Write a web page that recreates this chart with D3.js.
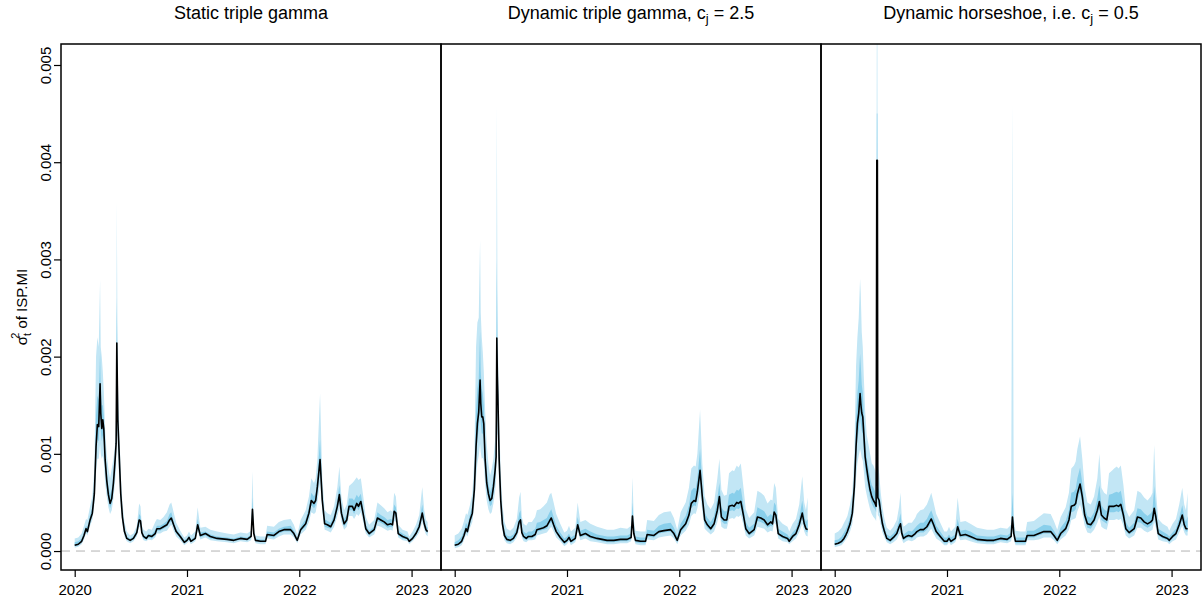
<!DOCTYPE html>
<html>
<head>
<meta charset="utf-8">
<script src="https://cdn.jsdelivr.net/npm/d3@7"></script>
<style>
  body { margin: 0; background: #fff; }
  svg { display: block; font-family: "Liberation Sans", Arial, sans-serif; }
</style>
</head>
<body>
<div id="chart"></div>
<script>
// all sigma^2 values below are in units of 1e-4
const UNIT = 1e-4;

// time grid (decimal years), shared by the three panels
const dates = [
  2020.000, 2020.032, 2020.062, 2020.083, 2020.101, 2020.113, 2020.137, 2020.157, 2020.175, 2020.190,
  2020.202, 2020.214, 2020.226, 2020.232, 2020.241, 2020.250, 2020.259, 2020.271, 2020.285, 2020.300,
  2020.315, 2020.330, 2020.345, 2020.360, 2020.369, 2020.375, 2020.380, 2020.384, 2020.396, 2020.410,
  2020.425, 2020.443, 2020.464, 2020.494, 2020.523, 2020.553, 2020.574, 2020.586, 2020.598, 2020.613,
  2020.637, 2020.657, 2020.687, 2020.717, 2020.732, 2020.762, 2020.791, 2020.821, 2020.845, 2020.860,
  2020.881, 2020.904, 2020.940, 2020.976, 2021.000, 2021.018, 2021.035, 2021.074, 2021.095, 2021.119,
  2021.164, 2021.208, 2021.268, 2021.357, 2021.417, 2021.476, 2021.536, 2021.571, 2021.583, 2021.595,
  2021.610, 2021.655, 2021.699, 2021.714, 2021.774, 2021.818, 2021.863, 2021.923, 2021.952, 2021.982,
  2022.012, 2022.057, 2022.086, 2022.107, 2022.131, 2022.146, 2022.161, 2022.185, 2022.205, 2022.226,
  2022.250, 2022.280, 2022.310, 2022.339, 2022.357, 2022.375, 2022.399, 2022.423, 2022.443, 2022.473,
  2022.488, 2022.512, 2022.527, 2022.548, 2022.571, 2022.592, 2022.622, 2022.667, 2022.696, 2022.726,
  2022.756, 2022.786, 2022.815, 2022.830, 2022.845, 2022.860, 2022.881, 2022.920, 2022.964, 2022.979,
  2023.009, 2023.039, 2023.068, 2023.095, 2023.113, 2023.128, 2023.143
];

// --- Static triple gamma ---
const med1 = [
  0.6, 0.7, 1.0, 1.6, 2.3, 2.0, 3.2, 3.9, 5.9, 10.7,
  13.0, 12.8, 17.2, 14.2, 12.6, 13.5, 12.6, 9.4, 7.3, 5.8,
  4.9, 5.4, 7.0, 9.4, 11.1, 21.4, 17.0, 13.5, 10.0, 5.9,
  3.5, 2.0, 1.3, 1.1, 1.3, 1.9, 3.2, 3.1, 1.9, 1.5,
  1.3, 1.6, 1.5, 1.8, 2.3, 2.3, 2.5, 2.7, 3.2, 3.4,
  2.7, 2.0, 1.5, 0.9, 1.1, 1.4, 1.0, 1.3, 2.7, 1.6,
  1.8, 1.5, 1.3, 1.2, 1.1, 1.3, 1.2, 1.5, 4.3, 1.8,
  1.1, 1.0, 1.0, 1.7, 1.6, 2.0, 2.2, 2.2, 1.8, 1.1,
  2.2, 2.8, 3.9, 5.2, 4.9, 5.2, 6.6, 9.4, 5.2, 2.8,
  2.7, 2.5, 3.2, 4.6, 5.8, 3.9, 2.8, 3.2, 4.6, 4.6,
  4.2, 4.9, 4.6, 5.1, 3.7, 2.3, 1.8, 2.2, 3.4, 3.2,
  3.0, 2.7, 2.8, 2.7, 4.1, 3.9, 1.8, 1.5, 1.3, 1.0,
  1.3, 1.8, 2.5, 3.9, 2.8, 2.2, 2.0
];
const outerHi1 = [
  1.3, 1.4, 1.8, 2.6, 3.3, 3.2, 4.6, 5.6, 8.5, 20.0,
  22.0, 21.0, 27.9, 21.0, 20.0, 18.5, 16.5, 12.5, 10.0, 8.5,
  7.5, 8.5, 9.5, 11.0, 14.0, 36.0, 24.0, 17.5, 13.0, 8.0,
  5.0, 3.0, 2.0, 1.6, 1.8, 2.6, 4.9, 4.6, 2.6, 2.2,
  2.0, 2.3, 2.2, 3.0, 3.3, 3.2, 3.5, 4.0, 4.8, 5.0,
  4.0, 2.9, 2.1, 1.4, 1.6, 2.0, 1.6, 2.0, 4.5, 2.4,
  2.5, 2.2, 2.0, 1.8, 1.7, 1.9, 1.8, 2.1, 8.2, 2.5,
  1.6, 1.5, 1.5, 2.6, 2.5, 3.0, 3.2, 3.3, 2.7, 1.7,
  3.2, 4.2, 5.6, 7.5, 7.0, 7.5, 9.5, 16.2, 7.5, 4.2,
  3.9, 3.7, 4.6, 6.6, 8.7, 5.6, 4.2, 4.8, 6.7, 7.0,
  7.2, 7.6, 7.3, 7.5, 5.5, 3.5, 2.7, 3.2, 5.0, 4.7,
  4.4, 4.0, 4.2, 4.0, 6.0, 5.6, 2.7, 2.2, 2.0, 1.5,
  2.0, 2.7, 3.7, 6.6, 4.2, 3.2, 3.0
];
const innerHi1 = [
  0.9, 1.0, 1.3, 2.0, 2.6, 2.4, 3.7, 4.5, 6.8, 14.0,
  16.0, 15.5, 20.5, 16.5, 15.0, 15.0, 14.0, 10.5, 8.2, 6.7,
  5.8, 6.4, 7.8, 10.0, 12.0, 26.0, 19.5, 15.0, 11.0, 6.6,
  4.0, 2.3, 1.5, 1.3, 1.5, 2.2, 3.8, 3.6, 2.2, 1.7,
  1.5, 1.8, 1.7, 2.2, 2.6, 2.6, 2.8, 3.1, 3.8, 4.0,
  3.1, 2.3, 1.7, 1.1, 1.3, 1.6, 1.2, 1.5, 3.3, 1.9,
  2.0, 1.7, 1.5, 1.4, 1.3, 1.5, 1.4, 1.7, 5.5, 2.0,
  1.3, 1.2, 1.2, 2.0, 1.9, 2.3, 2.5, 2.6, 2.1, 1.3,
  2.5, 3.3, 4.5, 6.0, 5.6, 6.0, 7.6, 11.5, 6.0, 3.3,
  3.1, 2.9, 3.7, 5.3, 6.8, 4.5, 3.3, 3.7, 5.4, 5.4,
  5.2, 5.8, 5.5, 5.9, 4.3, 2.7, 2.1, 2.5, 4.0, 3.7,
  3.5, 3.2, 3.3, 3.2, 4.8, 4.5, 2.1, 1.8, 1.5, 1.2,
  1.5, 2.1, 2.9, 4.8, 3.3, 2.6, 2.4
];
const innerLo1 = [
  0.5, 0.6, 0.9, 1.4, 2.1, 1.8, 2.9, 3.6, 5.4, 9.5,
  11.5, 11.3, 14.5, 12.5, 11.3, 11.9, 11.2, 8.4, 6.6, 5.3,
  4.4, 4.9, 6.4, 8.5, 10.0, 17.5, 14.8, 12.0, 9.0, 5.3,
  3.2, 1.8, 1.2, 1.0, 1.2, 1.7, 2.9, 2.8, 1.7, 1.3,
  1.2, 1.4, 1.3, 1.6, 2.1, 2.1, 2.3, 2.5, 2.9, 3.1,
  2.5, 1.8, 1.3, 0.8, 1.0, 1.2, 0.9, 1.2, 2.4, 1.4,
  1.6, 1.3, 1.2, 1.1, 1.0, 1.2, 1.1, 1.3, 3.8, 1.6,
  1.0, 0.9, 0.9, 1.5, 1.4, 1.8, 2.0, 2.0, 1.6, 1.0,
  2.0, 2.5, 3.5, 4.7, 4.4, 4.7, 5.9, 8.4, 4.7, 2.5,
  2.4, 2.3, 2.9, 4.2, 5.2, 3.5, 2.5, 2.9, 4.2, 4.2,
  3.8, 4.5, 4.2, 4.6, 3.4, 2.1, 1.6, 2.0, 3.1, 2.9,
  2.7, 2.4, 2.5, 2.4, 3.7, 3.5, 1.6, 1.3, 1.2, 0.9,
  1.2, 1.6, 2.3, 3.5, 2.5, 2.0, 1.8
];
const outerLo1 = [
  0.35, 0.45, 0.7, 1.2, 1.8, 1.6, 2.6, 3.2, 4.8, 8.0,
  9.5, 9.5, 11.0, 10.0, 9.5, 9.8, 9.2, 7.0, 5.6, 4.5,
  3.8, 4.2, 5.4, 7.2, 8.5, 13.0, 12.0, 10.0, 7.5, 4.5,
  2.7, 1.5, 1.0, 0.8, 1.0, 1.5, 2.5, 2.4, 1.5, 1.1,
  1.0, 1.2, 1.1, 1.4, 1.8, 1.8, 2.0, 2.1, 2.5, 2.7,
  2.1, 1.5, 1.1, 0.6, 0.8, 1.0, 0.7, 1.0, 2.1, 1.2,
  1.4, 1.1, 1.0, 0.9, 0.8, 1.0, 0.9, 1.1, 3.2, 1.4,
  0.8, 0.7, 0.7, 1.3, 1.2, 1.5, 1.7, 1.7, 1.4, 0.8,
  1.7, 2.2, 3.0, 4.0, 3.8, 4.0, 5.0, 7.0, 4.0, 2.2,
  2.1, 1.9, 2.5, 3.6, 4.4, 3.0, 2.2, 2.5, 3.6, 3.6,
  3.3, 3.8, 3.6, 4.0, 2.9, 1.8, 1.4, 1.7, 2.6, 2.5,
  2.3, 2.1, 2.2, 2.1, 3.1, 3.0, 1.4, 1.1, 1.0, 0.7,
  1.0, 1.4, 1.9, 3.0, 2.2, 1.7, 1.5
];

// --- Dynamic triple gamma, c_j = 2.5 ---
const med2 = [
  0.6, 0.7, 1.0, 1.6, 2.3, 2.0, 3.2, 3.9, 6.3, 10.7,
  13.1, 14.3, 17.6, 15.2, 13.8, 13.8, 13.1, 9.4, 7.0, 5.9,
  5.2, 5.4, 6.6, 8.3, 9.7, 21.9, 18.0, 16.2, 9.4, 5.2,
  2.8, 1.6, 1.2, 1.1, 1.3, 1.9, 3.0, 3.2, 1.9, 1.5,
  1.3, 1.5, 1.5, 1.7, 2.2, 2.3, 2.4, 2.6, 3.1, 3.4,
  2.7, 2.0, 1.4, 0.9, 1.1, 1.4, 1.0, 1.3, 2.7, 1.6,
  1.8, 1.5, 1.3, 1.1, 1.1, 1.2, 1.2, 1.4, 3.6, 1.8,
  1.1, 1.0, 1.0, 1.7, 1.6, 2.0, 2.1, 2.2, 1.8, 1.1,
  2.2, 2.8, 3.7, 4.9, 5.2, 5.1, 6.1, 8.3, 5.6, 3.2,
  2.7, 2.3, 2.8, 4.2, 5.6, 3.5, 3.2, 3.2, 4.6, 4.7,
  4.6, 5.0, 4.9, 5.1, 3.7, 2.3, 1.8, 2.2, 3.5, 3.4,
  3.2, 2.7, 3.0, 2.8, 4.0, 3.7, 1.8, 1.5, 1.3, 1.0,
  1.5, 1.8, 2.7, 3.9, 2.8, 2.3, 2.2
];
const outerHi2 = [
  1.6, 1.8, 2.3, 3.1, 3.9, 3.7, 4.8, 5.9, 9.5, 21.0,
  23.5, 24.0, 32.0, 24.5, 22.0, 20.5, 18.5, 14.5, 11.0, 9.0,
  7.8, 8.5, 9.5, 11.5, 14.0, 46.0, 28.0, 22.0, 13.5, 8.0,
  4.8, 3.0, 2.3, 2.1, 2.4, 3.3, 5.5, 6.1, 3.5, 2.8,
  2.6, 3.0, 3.0, 3.5, 4.2, 4.3, 4.6, 5.0, 5.8, 6.0,
  5.0, 3.8, 2.8, 1.9, 2.1, 2.6, 2.0, 2.4, 5.0, 3.0,
  3.2, 2.8, 2.5, 2.2, 2.2, 2.4, 2.3, 2.6, 7.6, 3.2,
  2.1, 2.0, 2.0, 3.2, 3.1, 3.7, 4.0, 4.1, 3.4, 2.2,
  4.0, 5.0, 6.5, 8.5, 8.8, 8.7, 10.0, 14.5, 9.0, 5.6,
  4.8, 4.3, 5.0, 7.5, 9.5, 6.3, 5.7, 5.8, 8.0, 8.3,
  8.2, 8.8, 8.6, 9.0, 6.6, 4.3, 3.4, 4.0, 6.2, 6.0,
  5.7, 4.9, 5.3, 5.2, 7.0, 6.5, 3.3, 2.8, 2.5, 2.0,
  2.8, 3.3, 4.8, 7.7, 5.0, 4.2, 5.5
];
const innerHi2 = [
  0.9, 1.1, 1.5, 2.1, 2.9, 2.6, 3.8, 4.6, 7.4, 14.3,
  16.7, 17.7, 22.6, 18.5, 16.7, 16.2, 15.0, 11.2, 8.4, 7.0,
  6.1, 6.5, 7.6, 9.4, 11.2, 30.0, 21.5, 18.2, 10.8, 6.2,
  3.5, 2.1, 1.6, 1.5, 1.7, 2.4, 3.9, 4.2, 2.5, 2.0,
  1.8, 2.0, 2.0, 2.3, 2.9, 3.0, 3.2, 3.4, 4.0, 4.3,
  3.5, 2.6, 1.9, 1.3, 1.5, 1.8, 1.4, 1.7, 3.5, 2.1,
  2.3, 2.0, 1.7, 1.5, 1.5, 1.6, 1.6, 1.8, 5.0, 2.3,
  1.5, 1.4, 1.4, 2.2, 2.1, 2.6, 2.8, 2.9, 2.4, 1.5,
  2.8, 3.6, 4.7, 6.2, 6.5, 6.4, 7.5, 10.5, 6.8, 4.0,
  3.4, 3.0, 3.6, 5.4, 7.0, 4.5, 4.1, 4.1, 5.8, 6.0,
  5.9, 6.3, 6.2, 6.5, 4.7, 3.0, 2.4, 2.8, 4.5, 4.3,
  4.1, 3.5, 3.8, 3.6, 5.0, 4.7, 2.3, 2.0, 1.7, 1.4,
  1.9, 2.3, 3.4, 5.2, 3.6, 3.0, 3.3
];
const innerLo2 = [
  0.5, 0.6, 0.8, 1.4, 2.1, 1.8, 2.9, 3.5, 5.7, 9.4,
  11.5, 12.5, 15.0, 13.2, 12.1, 12.1, 11.5, 8.3, 6.3, 5.3,
  4.6, 4.8, 5.9, 7.5, 8.7, 18.0, 15.6, 14.1, 8.4, 4.6,
  2.5, 1.4, 1.0, 0.9, 1.1, 1.7, 2.7, 2.9, 1.7, 1.3,
  1.1, 1.3, 1.3, 1.5, 2.0, 2.1, 2.2, 2.3, 2.8, 3.0,
  2.4, 1.8, 1.2, 0.7, 0.9, 1.2, 0.8, 1.1, 2.4, 1.4,
  1.6, 1.3, 1.1, 0.9, 0.9, 1.0, 1.0, 1.2, 3.2, 1.6,
  0.9, 0.8, 0.8, 1.5, 1.4, 1.8, 1.9, 2.0, 1.6, 0.9,
  1.9, 2.5, 3.3, 4.4, 4.7, 4.6, 5.4, 7.4, 5.0, 2.8,
  2.4, 2.1, 2.5, 3.7, 4.9, 3.1, 2.8, 2.8, 4.1, 4.2,
  4.1, 4.4, 4.3, 4.5, 3.3, 2.0, 1.6, 1.9, 3.1, 3.0,
  2.8, 2.4, 2.6, 2.5, 3.6, 3.3, 1.6, 1.3, 1.1, 0.9,
  1.3, 1.6, 2.4, 3.4, 2.5, 2.0, 1.9
];
const outerLo2 = [
  0.3, 0.4, 0.6, 1.1, 1.7, 1.5, 2.4, 3.0, 4.8, 7.5,
  9.0, 9.8, 11.0, 10.2, 9.5, 9.6, 9.2, 6.8, 5.2, 4.3,
  3.8, 4.0, 4.9, 6.2, 7.3, 12.0, 12.0, 11.0, 6.8, 3.8,
  2.1, 1.1, 0.8, 0.7, 0.9, 1.4, 2.2, 2.4, 1.4, 1.0,
  0.9, 1.1, 1.1, 1.2, 1.6, 1.7, 1.8, 1.9, 2.3, 2.5,
  2.0, 1.4, 1.0, 0.5, 0.7, 1.0, 0.6, 0.9, 2.0, 1.1,
  1.3, 1.0, 0.9, 0.7, 0.7, 0.8, 0.8, 1.0, 2.6, 1.3,
  0.7, 0.6, 0.6, 1.2, 1.1, 1.4, 1.5, 1.6, 1.3, 0.7,
  1.6, 2.1, 2.7, 3.6, 3.9, 3.8, 4.4, 6.0, 4.1, 2.3,
  2.0, 1.7, 2.0, 3.0, 4.0, 2.5, 2.3, 2.3, 3.3, 3.4,
  3.3, 3.6, 3.5, 3.7, 2.7, 1.6, 1.3, 1.6, 2.5, 2.4,
  2.3, 1.9, 2.1, 2.0, 2.9, 2.7, 1.3, 1.0, 0.9, 0.7,
  1.0, 1.3, 1.9, 2.8, 2.0, 1.6, 1.5
];

// --- Dynamic horseshoe, c_j = 0.5 ---
const med3 = [
  0.7, 0.8, 1.0, 1.3, 1.7, 2.0, 2.8, 3.9, 6.6, 10.7,
  13.1, 14.2, 16.2, 15.2, 14.2, 13.8, 12.1, 9.7, 8.5, 7.3,
  6.3, 5.6, 5.2, 4.9, 4.6, 40.2, 40.2, 5.5, 5.2, 3.9,
  2.8, 2.0, 1.3, 1.1, 1.4, 1.8, 2.5, 2.8, 1.8, 1.3,
  1.5, 1.6, 1.5, 1.8, 2.0, 2.2, 2.2, 2.5, 3.0, 3.3,
  2.7, 2.0, 1.5, 1.0, 1.0, 1.3, 1.0, 1.3, 2.5, 1.6,
  1.7, 1.5, 1.2, 1.1, 1.1, 1.3, 1.2, 1.5, 3.5, 1.8,
  1.0, 1.0, 1.0, 1.6, 1.6, 1.8, 2.0, 2.0, 1.6, 1.1,
  1.8, 2.3, 3.2, 4.6, 4.7, 4.9, 5.9, 6.9, 5.6, 3.7,
  2.8, 2.7, 3.2, 4.2, 5.1, 3.7, 3.4, 3.2, 4.6, 4.6,
  4.6, 4.7, 4.6, 4.8, 3.7, 2.3, 1.9, 2.3, 3.5, 3.4,
  3.0, 2.8, 3.0, 3.2, 4.4, 3.5, 1.8, 1.5, 1.3, 1.1,
  1.5, 1.8, 2.7, 3.7, 2.7, 2.3, 2.3
];
const outerHi3 = [
  1.8, 2.0, 2.4, 2.9, 3.3, 3.6, 4.8, 6.0, 10.0, 19.0,
  22.0, 24.0, 28.0, 26.5, 22.5, 21.0, 18.0, 14.5, 12.0, 11.0,
  10.0, 9.0, 8.8, 8.3, 8.0, 56.0, 56.0, 9.0, 8.0, 6.0,
  4.5, 3.3, 2.4, 2.1, 2.5, 3.2, 4.6, 6.0, 3.3, 2.5,
  2.7, 2.9, 2.9, 3.4, 3.8, 4.2, 4.3, 4.8, 5.5, 6.0,
  5.0, 3.8, 2.9, 2.0, 2.0, 2.5, 2.0, 2.5, 5.5, 3.0,
  3.1, 2.8, 2.4, 2.2, 2.2, 2.4, 2.3, 2.7, 46.0, 3.3,
  2.1, 2.0, 2.0, 3.0, 3.1, 3.5, 3.9, 3.8, 3.1, 2.2,
  3.5, 4.5, 6.0, 8.5, 8.8, 9.2, 10.5, 11.8, 9.5, 6.5,
  5.0, 4.8, 5.6, 7.5, 10.0, 6.5, 6.0, 5.8, 8.0, 8.3,
  8.5, 8.7, 8.5, 8.8, 6.8, 4.3, 3.5, 4.2, 6.2, 6.0,
  5.5, 5.2, 5.6, 6.0, 10.9, 6.3, 3.3, 2.8, 2.5, 2.1,
  2.8, 3.3, 4.8, 6.5, 4.8, 4.2, 6.0
];
const innerHi3 = [
  1.1, 1.2, 1.5, 1.9, 2.3, 2.6, 3.5, 4.7, 7.8, 13.6,
  16.2, 17.6, 20.3, 19.2, 17.1, 16.3, 14.2, 11.4, 9.7, 8.6,
  7.6, 6.8, 6.5, 6.1, 5.8, 45.0, 45.0, 6.7, 6.2, 4.6,
  3.4, 2.5, 1.7, 1.5, 1.8, 2.3, 3.2, 3.9, 2.3, 1.7,
  1.9, 2.1, 2.0, 2.4, 2.6, 2.9, 2.9, 3.3, 3.9, 4.2,
  3.5, 2.6, 2.0, 1.4, 1.4, 1.7, 1.4, 1.7, 3.3, 2.1,
  2.2, 2.0, 1.6, 1.5, 1.5, 1.7, 1.6, 1.9, 6.0, 2.3,
  1.4, 1.4, 1.4, 2.1, 2.1, 2.4, 2.7, 2.6, 2.1, 1.5,
  2.4, 3.1, 4.2, 6.0, 6.1, 6.4, 7.5, 8.6, 7.0, 4.7,
  3.6, 3.4, 4.0, 5.4, 6.8, 4.7, 4.3, 4.1, 5.8, 5.9,
  6.0, 6.1, 6.0, 6.2, 4.8, 3.0, 2.4, 2.9, 4.4, 4.3,
  3.9, 3.6, 3.9, 4.2, 6.7, 4.5, 2.3, 2.0, 1.7, 1.5,
  1.9, 2.3, 3.4, 4.7, 3.5, 3.0, 3.6
];
const innerLo3 = [
  0.6, 0.7, 0.8, 1.1, 1.5, 1.8, 2.5, 3.5, 5.8, 9.4,
  11.5, 12.4, 13.9, 13.2, 12.4, 12.0, 10.5, 8.4, 7.4, 6.4,
  5.5, 4.9, 4.5, 4.3, 4.0, 26.0, 26.0, 4.8, 4.5, 3.4,
  2.4, 1.8, 1.1, 0.9, 1.2, 1.6, 2.2, 2.4, 1.6, 1.1,
  1.3, 1.4, 1.3, 1.6, 1.8, 1.9, 1.9, 2.2, 2.6, 2.9,
  2.3, 1.7, 1.3, 0.8, 0.8, 1.1, 0.8, 1.1, 2.2, 1.4,
  1.5, 1.3, 1.0, 0.9, 0.9, 1.1, 1.0, 1.3, 2.9, 1.6,
  0.8, 0.8, 0.8, 1.4, 1.4, 1.6, 1.8, 1.8, 1.4, 0.9,
  1.5, 2.0, 2.8, 4.0, 4.1, 4.3, 5.2, 6.1, 4.9, 3.3,
  2.4, 2.3, 2.8, 3.7, 4.5, 3.2, 3.0, 2.8, 4.0, 4.0,
  4.0, 4.1, 4.0, 4.2, 3.2, 2.0, 1.7, 2.0, 3.0, 2.9,
  2.6, 2.4, 2.6, 2.8, 3.8, 3.0, 1.6, 1.3, 1.1, 0.9,
  1.3, 1.6, 2.4, 3.2, 2.3, 2.0, 2.0
];
const outerLo3 = [
  0.4, 0.5, 0.6, 0.9, 1.2, 1.4, 2.0, 2.8, 4.6, 7.5,
  9.0, 9.8, 10.5, 10.2, 9.6, 9.3, 8.2, 6.6, 5.8, 5.0,
  4.3, 3.8, 3.5, 3.3, 3.1, 5.0, 5.0, 3.7, 3.5, 2.7,
  1.9, 1.4, 0.9, 0.7, 0.9, 1.2, 1.7, 1.9, 1.2, 0.8,
  1.0, 1.1, 1.0, 1.2, 1.4, 1.5, 1.5, 1.7, 2.1, 2.3,
  1.8, 1.3, 1.0, 0.6, 0.6, 0.9, 0.6, 0.9, 1.7, 1.1,
  1.2, 1.0, 0.8, 0.7, 0.7, 0.9, 0.8, 1.0, 2.0, 1.2,
  0.6, 0.6, 0.6, 1.1, 1.1, 1.2, 1.4, 1.4, 1.1, 0.7,
  1.2, 1.6, 2.2, 3.2, 3.3, 3.4, 4.1, 4.8, 3.9, 2.6,
  1.9, 1.8, 2.2, 2.9, 3.5, 2.5, 2.3, 2.2, 3.2, 3.2,
  3.2, 3.3, 3.2, 3.3, 2.6, 1.6, 1.3, 1.6, 2.4, 2.4,
  2.1, 1.9, 2.1, 2.2, 3.0, 2.4, 1.2, 1.0, 0.9, 0.7,
  1.0, 1.2, 1.9, 2.6, 1.9, 1.6, 1.6
];

const yearTicks = [2020, 2021, 2022, 2023];
const yTicks = [0, 0.001, 0.002, 0.003, 0.004, 0.005];

const panels = [
  { title: [["Static triple gamma", false]],
    med: med1, innerLo: innerLo1, innerHi: innerHi1, outerLo: outerLo1, outerHi: outerHi1 },
  { title: [["Dynamic triple gamma, c", false], ["j", true], [" = 2.5", false]],
    med: med2, innerLo: innerLo2, innerHi: innerHi2, outerLo: outerLo2, outerHi: outerHi2 },
  { title: [["Dynamic horseshoe, i.e. c", false], ["j", true], [" = 0.5", false]],
    med: med3, innerLo: innerLo3, innerHi: innerHi3, outerLo: outerLo3, outerHi: outerHi3 }
];

// quick sanity check so a typo in the arrays shows up as an error
panels.forEach((p, k) => {
  ["med", "innerLo", "innerHi", "outerLo", "outerHi"].forEach(key => {
    if (p[key].length !== dates.length) {
      throw new Error(`panel ${k + 1} ${key}: ${p[key].length} values, expected ${dates.length}`);
    }
  });
});

const width = 1204, height = 603;
const plotTop = 44, plotBottom = 570;
const panelLeft = [61, 441, 821];
const panelWidth = 380;
const outerColor = "#c2e6f5";
const innerColor = "#89cfeb";
const font = "'Liberation Sans', Arial, sans-serif";

const svg = d3.select("#chart")
  .append("svg")
  .attr("width", width)
  .attr("height", height);

const y = d3.scaleLinear()
  .domain([-0.000195, 0.005216])
  .range([plotBottom, plotTop]);

panels.forEach((p, k) => {
  const left = panelLeft[k];
  const x = d3.scaleLinear()
    .domain([2019.878, 2023.262])
    .range([left, left + panelWidth]);

  const band = (lo, hi) => d3.area()
    .x(d => x(d))
    .y0((d, i) => y(lo[i] * UNIT))
    .y1((d, i) => y(hi[i] * UNIT));

  const line = d3.line()
    .x(d => x(d))
    .y((d, i) => y(p.med[i] * UNIT));

  const g = svg.append("g");

  g.append("clipPath")
    .attr("id", "clip" + k)
    .append("rect")
    .attr("x", left)
    .attr("y", plotTop)
    .attr("width", panelWidth)
    .attr("height", plotBottom - plotTop);

  const plot = g.append("g").attr("clip-path", `url(#clip${k})`);

  // zero reference line
  plot.append("line")
    .attr("x1", left)
    .attr("x2", left + panelWidth)
    .attr("y1", y(0))
    .attr("y2", y(0))
    .attr("stroke", "#b3b3b3")
    .attr("stroke-width", 1)
    .attr("stroke-dasharray", "9,6");

  plot.append("path")
    .datum(dates)
    .attr("d", band(p.outerLo, p.outerHi))
    .attr("fill", outerColor);

  plot.append("path")
    .datum(dates)
    .attr("d", band(p.innerLo, p.innerHi))
    .attr("fill", innerColor);

  plot.append("path")
    .datum(dates)
    .attr("d", line)
    .attr("fill", "none")
    .attr("stroke", "#000")
    .attr("stroke-width", 1.6)
    .attr("stroke-linejoin", "round");

  // box around the panel
  g.append("rect")
    .attr("x", left)
    .attr("y", plotTop)
    .attr("width", panelWidth)
    .attr("height", plotBottom - plotTop)
    .attr("fill", "none")
    .attr("stroke", "#000")
    .attr("stroke-width", 1.5);

  // x axis
  g.append("g")
    .attr("transform", `translate(0,${plotBottom})`)
    .call(d3.axisBottom(x).tickValues(yearTicks).tickFormat(d3.format("d")).tickSize(7).tickPadding(7))
    .call(a => a.select(".domain").remove())
    .attr("font-size", 15)
    .attr("font-family", font)
    .call(a => a.selectAll(".tick line").attr("stroke-width", 1.2));

  // title
  const title = g.append("text")
    .attr("x", left + panelWidth / 2)
    .attr("y", 19)
    .attr("text-anchor", "middle")
    .attr("font-size", 18)
    .attr("font-family", font);
  p.title.forEach(([txt, sub], j) => {
    const prevSub = j > 0 && p.title[j - 1][1];
    title.append("tspan")
      .attr("dy", sub ? 4 : (prevSub ? -4 : 0))
      .attr("font-size", sub ? 13 : 18)
      .text(txt);
  });
});

// y axis on the first panel only
svg.append("g")
  .attr("transform", `translate(${panelLeft[0]},0)`)
  .call(d3.axisLeft(y).tickValues(yTicks).tickFormat(d3.format(".3f")).tickSize(7))
  .call(a => a.select(".domain").remove())
  .attr("font-size", 15)
  .attr("font-family", font)
  .call(a => a.selectAll(".tick line").attr("stroke-width", 1.2))
  .call(a => a.selectAll(".tick text")
    .attr("x", null)
    .attr("dy", null)
    .attr("text-anchor", "middle")
    .attr("transform", "translate(-10,0) rotate(-90)"));

// y axis label: sigma_t^2 of ISP.MI
const ylab = svg.append("text")
  .attr("transform", `translate(27,${(plotTop + plotBottom) / 2}) rotate(-90)`)
  .attr("text-anchor", "middle")
  .attr("font-size", 15)
  .attr("font-family", font);
ylab.append("tspan").text("σ");
ylab.append("tspan").attr("dy", 4).attr("font-size", 11).text("t");
ylab.append("tspan").attr("dx", -6).attr("dy", -12).attr("font-size", 11).text("2");
ylab.append("tspan").attr("dy", 8).text(" of ISP.MI");
</script>
</body>
</html>
